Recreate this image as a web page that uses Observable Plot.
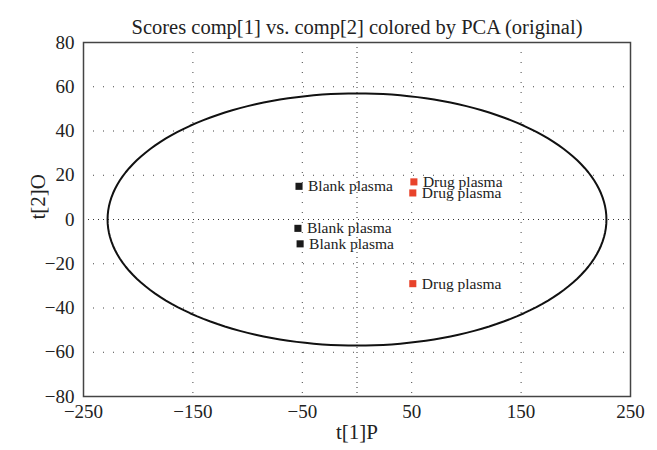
<!DOCTYPE html>
<html><head><meta charset="utf-8">
<script src="https://cdn.jsdelivr.net/npm/d3@7"></script>
<script src="https://cdn.jsdelivr.net/npm/@observablehq/plot@0.6"></script>
<style>body{margin:0;background:#fff}</style>
</head><body><div id="chart"></div>
<script>
const labels = ["Blank plasma","Blank plasma","Blank plasma","Drug plasma","Drug plasma","Drug plasma"];
const groups = ["Blank","Blank","Blank","Drug","Drug","Drug"];
const t1 = [-53, -54, -52, 52, 51, 51];
const t2 = [15, -4, -11, 17, 12, -29];
const xTicks = [-250, -150, -50, 50, 150, 250];
const yTicks = [-80, -60, -40, -20, 0, 20, 40, 60, 80];
const xGrid = [-150, -50, 50, 150];
const yGrid = [-60, -40, -20, 20, 40, 60];
const ellipseRx = 228, ellipseRy = 57;

const pts = t1.map((v, i) => ({x: v, y: t2[i], label: labels[i], group: groups[i]}));
const ell = d3.range(0, 361, 2).map(a => ({x: ellipseRx * Math.cos(a * Math.PI / 180), y: ellipseRy * Math.sin(a * Math.PI / 180)}));

const font = "'Liberation Serif', 'DejaVu Serif', serif";
const chart = Plot.plot({
  width: 657, height: 450,
  marginLeft: 83, marginRight: 27, marginTop: 42, marginBottom: 54,
  style: {fontFamily: font, fontSize: "19px", color: "#222", background: "#fff"},
  x: {domain: [-250, 250]},
  y: {domain: [-80, 80]},
  color: {domain: ["Blank", "Drug"], range: ["#1a1a1a", "#e8432b"]},
  marks: [
    Plot.ruleX(xGrid, {stroke: "#444", strokeWidth: 1, strokeDasharray: "1,9"}),
    Plot.ruleY(yGrid, {stroke: "#444", strokeWidth: 1, strokeDasharray: "1,9"}),
    Plot.ruleX([0], {stroke: "#333", strokeWidth: 1, strokeDasharray: "1,4"}),
    Plot.ruleY([0], {stroke: "#333", strokeWidth: 1, strokeDasharray: "1,4"}),
    Plot.line(ell, {x: "x", y: "y", stroke: "#111", strokeWidth: 2, curve: "linear"}),
    Plot.dot(pts, {x: "x", y: "y", symbol: "square", r: 4, fill: "group", stroke: null}),
    Plot.text(pts, {x: "x", y: "y", text: "label", dx: 9, textAnchor: "start", fontSize: 15.5, fill: "#222"}),
    Plot.frame({stroke: "#444", strokeWidth: 1.5}),
    Plot.axisX({ticks: xTicks, tickSize: 0, tickPadding: 8, fontSize: 19, label: null}),
    Plot.axisY({ticks: yTicks, tickSize: 0, tickPadding: 9, fontSize: 19, label: null}),
    Plot.text(["Scores comp[1] vs. comp[2] colored by PCA (original)"], {frameAnchor: "top", dy: -23, fontSize: 20.5, fill: "#222"}),
    Plot.text(["t[1]P"], {frameAnchor: "bottom", dy: 42, fontSize: 21, fill: "#222"}),
    Plot.text(["t[2]O"], {frameAnchor: "left", dx: -45, rotate: -90, fontSize: 21, fill: "#222"})
  ]
});
document.getElementById("chart").append(chart);
</script>
</body></html>
